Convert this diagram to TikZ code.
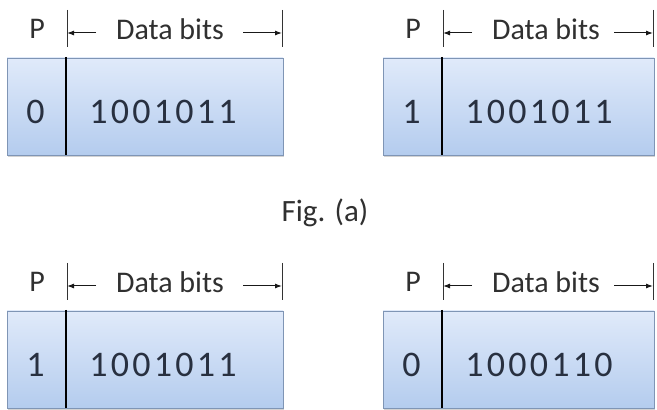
\documentclass[tikz,border=0pt]{standalone}
\usepackage{fontspec}
\setmainfont{Carlito}
\usetikzlibrary{arrows.meta,shadows}
\definecolor{boxtop}{HTML}{E0EAFA}
\definecolor{boxbot}{HTML}{B4CCEE}
\definecolor{boxedge}{HTML}{7F95B5}
\definecolor{digitc}{HTML}{283040}
\definecolor{labelc}{HTML}{303030}
\newcommand{\bd}[1]{\makebox[21.5pt]{#1}}
\tikzset{
  framebox/.style={draw=boxedge, line width=0.8pt, top color=boxtop, bottom color=boxbot,
    drop shadow={opacity=0.35, shadow xshift=1pt, shadow yshift=-2pt}},
  divider/.style={line width=2.6pt, black},
  tick/.style={line width=0.9pt, black!80},
  dimarrow/.style={-{Latex[length=7pt,width=5pt]}, line width=1pt, black!90},
  bitstext/.style={font=\fontsize{36}{36}\selectfont, text=digitc, inner sep=0pt},
  labeltext/.style={font=\fontsize{30}{30}\selectfont, text=labelc, inner sep=0pt},
  figtext/.style={font=\fontsize{31}{31}\selectfont, text=labelc, inner sep=0pt}
}
% #1 = name prefix, #2 = left x, #3 = top y (image coordinates), #4 = width, #5 = parity, #6 = data
\newcommand{\parityframe}[6]{%
  \path[framebox] (#2pt, 410pt-#3pt) rectangle (#2pt+#4pt, 410pt-#3pt-97pt);
  \coordinate (#1dt) at (#2pt+59pt, 410pt-#3pt+1pt);
  \coordinate (#1db) at (#2pt+59pt, 410pt-#3pt-97pt);
  \draw[divider] (#1dt) -- (#1db);
  \node[labeltext] (#1P) at (#2pt+30pt, 410pt-#3pt+29pt) {P};
  \coordinate (#1t1a) at (#2pt+60pt, 410pt-#3pt+48pt);
  \coordinate (#1t1b) at (#2pt+60pt, 410pt-#3pt+11pt);
  \coordinate (#1t2a) at (#2pt+#4pt-1pt, 410pt-#3pt+48pt);
  \coordinate (#1t2b) at (#2pt+#4pt-1pt, 410pt-#3pt+11pt);
  \draw[tick] (#1t1a) -- (#1t1b);
  \draw[tick] (#1t2a) -- (#1t2b);
  \node[labeltext] (#1D) at (#2pt+163pt, 410pt-#3pt+29pt) {Data bits};
  \coordinate (#1al) at (#2pt+89pt, 410pt-#3pt+25pt);
  \coordinate (#1ar) at (#2pt+#4pt-40pt, 410pt-#3pt+25pt);
  \draw[dimarrow] (#1al) -- (#1t1a |- #1al);
  \draw[dimarrow] (#1ar) -- (#1t2a |- #1ar);
  \node[bitstext] (#1p) at (#2pt+28.5pt, 410pt-#3pt-54pt) {#5};
  \node[bitstext] (#1d) at (#2pt+156pt, 410pt-#3pt-54pt) {#6};
}
\begin{document}
\begin{tikzpicture}
\useasboundingbox (0,0) rectangle (657pt,410pt);
\fill[white] (0,0) rectangle (657pt,410pt);
\parityframe{a}{7}{58}{276}{0}{\bd1\bd0\bd0\bd1\bd0\bd1\bd1}
\parityframe{b}{383}{58}{271}{1}{\bd1\bd0\bd0\bd1\bd0\bd1\bd1}
\parityframe{c}{7}{311}{276}{1}{\bd1\bd0\bd0\bd1\bd0\bd1\bd1}
\parityframe{d}{383}{311}{271}{0}{\bd1\bd0\bd0\bd0\bd1\bd1\bd0}
\node[figtext] (fig) at (325pt, 410pt-213pt) {Fig. (a)};
\end{tikzpicture}
\end{document}
